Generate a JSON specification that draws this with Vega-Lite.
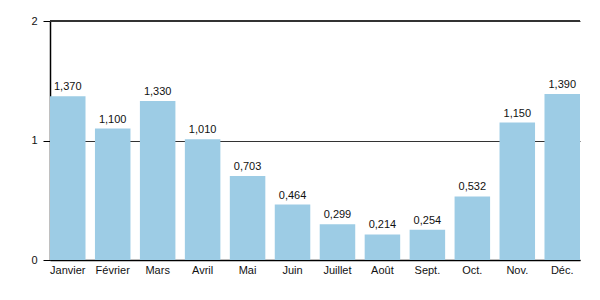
{
  "$schema": "https://vega.github.io/schema/vega-lite/v6.json",
  "width": 530,
  "height": 239,
  "autosize": {"type": "none"},
  "padding": {"left": 50, "top": 21, "right": 20, "bottom": 40},
  "config": {
    "locale": {"number": {"decimal": ",", "thousands": " ", "grouping": [3], "currency": ["", " €"]}},
    "view": {"stroke": null},
    "font": "Liberation Sans"
  },
  "data": {
    "values": [
      {"mois": "Janvier", "valeur": 1.37},
      {"mois": "Février", "valeur": 1.1},
      {"mois": "Mars", "valeur": 1.33},
      {"mois": "Avril", "valeur": 1.01},
      {"mois": "Mai", "valeur": 0.703},
      {"mois": "Juin", "valeur": 0.464},
      {"mois": "Juillet", "valeur": 0.299},
      {"mois": "Août", "valeur": 0.214},
      {"mois": "Sept.", "valeur": 0.254},
      {"mois": "Oct.", "valeur": 0.532},
      {"mois": "Nov.", "valeur": 1.15},
      {"mois": "Déc.", "valeur": 1.39}
    ]
  },
  "layer": [
    {
      "mark": {"type": "bar", "color": "#9dcce5"},
      "encoding": {
        "x": {
          "field": "mois", "type": "nominal", "sort": null,
          "scale": {"paddingInner": 0.21, "paddingOuter": 0},
          "axis": {"title": null, "labelAngle": 0, "ticks": false, "domainColor": "#000", "domainWidth": 1.5, "labelFontSize": 11, "labelColor": "#111", "labelPadding": 4}
        },
        "y": {
          "field": "valeur", "type": "quantitative",
          "scale": {"domain": [0, 2], "nice": false},
          "axis": {"title": null, "tickCount": 2, "grid": true, "gridColor": "#333", "gridWidth": 1, "gridOpacity": 1, "domainColor": "#000", "domainWidth": 1.5, "tickColor": "#000", "tickSize": 7, "labelFontSize": 11, "labelColor": "#111", "labelPadding": 6}
        }
      }
    },
    {
      "mark": {"type": "rule", "color": "#333", "strokeWidth": 1},
      "encoding": {"y": {"datum": 2}}
    },
    {
      "mark": {"type": "text", "baseline": "bottom", "dy": -4, "fontSize": 11, "color": "#111"},
      "encoding": {
        "x": {"field": "mois", "type": "nominal", "sort": null},
        "y": {"field": "valeur", "type": "quantitative"},
        "text": {"field": "valeur", "type": "quantitative", "format": ".3f"}
      }
    }
  ]
}
